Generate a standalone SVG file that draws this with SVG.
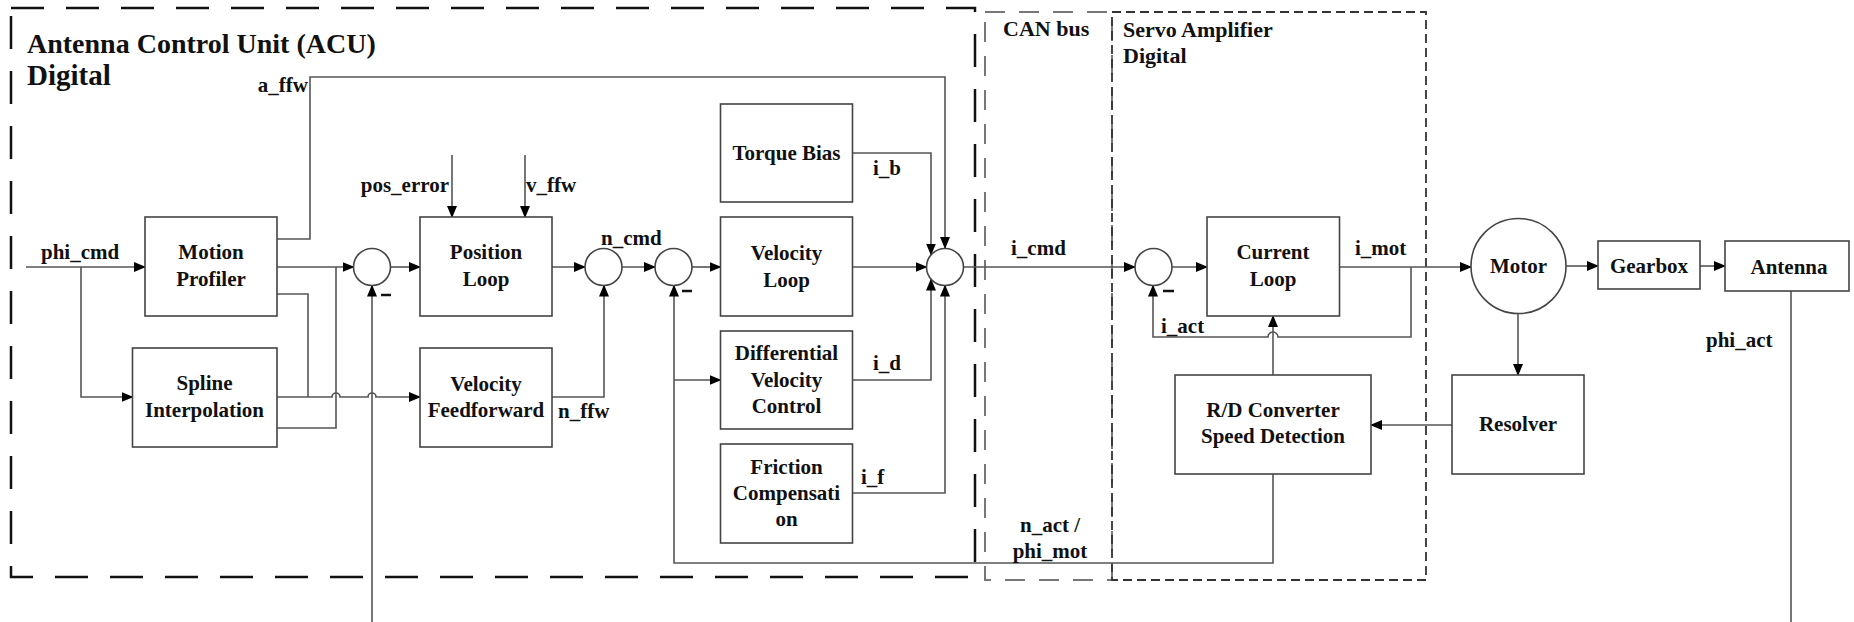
<svg xmlns="http://www.w3.org/2000/svg" width="1854" height="622" viewBox="0 0 1854 622" font-family="'Liberation Serif', 'DejaVu Serif', serif">
<defs>
<marker id="arr" markerWidth="12" markerHeight="10" refX="11" refY="5" orient="auto" markerUnits="userSpaceOnUse">
<path d="M0,0 L12,5 L0,10 z" fill="#000"/>
</marker>
<style>
.box{fill:#fff;stroke:#444;stroke-width:1.6}
.sum{fill:#fff;stroke:#444;stroke-width:1.6}
.ln{fill:none;stroke:#555;stroke-width:1.6}
.ar{marker-end:url(#arr)}
text{font-family:'Liberation Serif',serif;font-weight:bold;font-size:21px;fill:#111}
.c{text-anchor:middle}
.e{text-anchor:end}
.h1{font-size:28px}
.h1b{font-size:29px}
.h2{font-size:22px}
.minus{stroke:#111;stroke-width:2.5}
</style>
</defs>
<rect width="1854" height="622" fill="#fff"/>

<g id="regions">
<rect id="acu-region" x="11" y="8" width="964" height="569" fill="none" stroke="#111" stroke-width="2.5" stroke-dasharray="33 22"/>
<rect id="can-region" x="985" y="12" width="127" height="568" fill="none" stroke="#777" stroke-width="2" stroke-dasharray="20 14"/>
<rect id="servo-region" x="1112" y="12" width="314" height="568" fill="none" stroke="#333" stroke-width="1.8" stroke-dasharray="9 5"/>
<text class="h1" x="27" y="53">Antenna Control Unit (ACU)</text>
<text class="h1b" x="27" y="85">Digital</text>
<text class="h2" x="1003" y="36">CAN bus</text>
<text class="h2" x="1123" y="37">Servo Amplifier</text>
<text class="h2" x="1123" y="63">Digital</text>
</g>

<g id="connectors">
<path class="ln ar" d="M26,267 H145"/>
<path class="ln ar" d="M81,267 V397 H132.5"/>
<path class="ln ar" d="M277,239 H310 V77 H945 V248"/>
<path class="ln ar" d="M277,267 H353.5"/>
<path class="ln" d="M277,294 H308 V397"/>
<path class="ln ar" d="M277,397 H332 A4,4 0 0 1 340,397 H368 A4,4 0 0 1 376,397 H420"/>
<path class="ln" d="M277,428 H336 V267"/>
<path class="ln ar" d="M372,622 V285.5"/>
<path class="ln ar" d="M391,267 H420"/>
<path class="ln ar" d="M452,155 V217"/>
<path class="ln ar" d="M525,155 V217"/>
<path class="ln ar" d="M552,267 H585"/>
<path class="ln ar" d="M552,397 H604 V285.5"/>
<path class="ln ar" d="M622,267 H655"/>
<path class="ln ar" d="M692,267 H720.5"/>
<path class="ln ar" d="M852,267 H926.5"/>
<path class="ln ar" d="M852,153 H931 V254.5"/>
<path class="ln ar" d="M852,380 H931 V279.5"/>
<path class="ln ar" d="M852,493 H945 V285.5"/>
<path class="ln ar" d="M963.5,267 H1135"/>
<path class="ln ar" d="M1172,267 H1207"/>
<path class="ln ar" d="M1340,267 H1471"/>
<path class="ln ar" d="M1411,267 V337 H1278 A5,5 0 0 0 1268,337 H1153 V285.5"/>
<path class="ln ar" d="M1566,266 H1598"/>
<path class="ln ar" d="M1700,266 H1725"/>
<path class="ln" d="M1791,291 V622"/>
<path class="ln ar" d="M1518,313.5 V375"/>
<path class="ln ar" d="M1452,425 H1371"/>
<path class="ln ar" d="M1273,375 V316"/>
<path class="ln ar" d="M1273,474 V563 H674 V285.5"/>
<path class="ln ar" d="M674,380 H720.5"/>
<text class="e" x="308" y="92">a_ffw</text>
<text x="41" y="259">phi_cmd</text>
<text class="e" x="449" y="192">pos_error</text>
<text x="526" y="192">v_ffw</text>
<text x="601" y="245">n_cmd</text>
<text x="558" y="418">n_ffw</text>
<text x="873" y="175">i_b</text>
<text x="873" y="370">i_d</text>
<text x="861" y="484">i_f</text>
<text x="1011" y="255">i_cmd</text>
<text x="1355" y="255">i_mot</text>
<text x="1161" y="333">i_act</text>
<text class="c" x="1050" y="532">n_act /</text>
<text class="c" x="1050" y="558">phi_mot</text>
<text x="1706" y="347">phi_act</text>
</g>

<g id="motion-profiler"><rect class="box" x="145" y="217" width="132" height="99"/><text class="c" x="211" y="259">Motion</text><text class="c" x="211" y="286">Profiler</text></g>
<g id="spline-interpolation"><rect class="box" x="132.5" y="348" width="144.5" height="99"/><text class="c" x="204.5" y="390">Spline</text><text class="c" x="204.5" y="417">Interpolation</text></g>
<g id="sum1"><circle class="sum" cx="372" cy="267" r="18.5"/><line class="minus" x1="381" y1="295" x2="391" y2="295"/></g>
<g id="position-loop"><rect class="box" x="420" y="217" width="132" height="99"/><text class="c" x="486" y="259">Position</text><text class="c" x="486" y="286">Loop</text></g>
<g id="velocity-feedforward"><rect class="box" x="420" y="348" width="132" height="99"/><text class="c" x="486" y="391">Velocity</text><text class="c" x="486" y="417">Feedforward</text></g>
<g id="sum2"><circle class="sum" cx="603.5" cy="267" r="18.5"/></g>
<g id="sum3"><circle class="sum" cx="673.5" cy="267" r="18.5"/><line class="minus" x1="682" y1="291" x2="692" y2="291"/></g>
<g id="torque-bias"><rect class="box" x="720.5" y="104" width="132" height="98"/><text class="c" x="786.5" y="160">Torque Bias</text></g>
<g id="velocity-loop"><rect class="box" x="720.5" y="217" width="132" height="99"/><text class="c" x="786.5" y="260">Velocity</text><text class="c" x="786.5" y="287">Loop</text></g>
<g id="differential-velocity-control"><rect class="box" x="720.5" y="331" width="132" height="98"/><text class="c" x="786.5" y="360">Differential</text><text class="c" x="786.5" y="387">Velocity</text><text class="c" x="786.5" y="413">Control</text></g>
<g id="friction-compensation"><rect class="box" x="720.5" y="444" width="132" height="99"/><text class="c" x="786.5" y="474">Friction</text><text class="c" x="786.5" y="500">Compensati</text><text class="c" x="786.5" y="526">on</text></g>
<g id="sum4"><circle class="sum" cx="945" cy="267" r="18.5"/></g>
<g id="sum5"><circle class="sum" cx="1153.5" cy="267" r="18.5"/><line class="minus" x1="1163" y1="291" x2="1174" y2="291"/></g>
<g id="current-loop"><rect class="box" x="1207" y="217" width="132.5" height="99"/><text class="c" x="1273" y="259">Current</text><text class="c" x="1273" y="286">Loop</text></g>
<g id="rd-converter"><rect class="box" x="1175" y="375" width="196" height="99"/><text class="c" x="1273" y="417">R/D Converter</text><text class="c" x="1273" y="443">Speed Detection</text></g>
<g id="motor"><circle class="sum" cx="1518.5" cy="266" r="47.5"/><text class="c" x="1518.5" y="273">Motor</text></g>
<g id="gearbox"><rect class="box" x="1598" y="241" width="102" height="48"/><text class="c" x="1649" y="273">Gearbox</text></g>
<g id="antenna"><rect class="box" x="1725" y="241" width="124" height="50"/><text class="c" x="1789" y="274">Antenna</text></g>
<g id="resolver"><rect class="box" x="1452" y="375" width="132" height="99"/><text class="c" x="1518" y="431">Resolver</text></g>
</svg>
